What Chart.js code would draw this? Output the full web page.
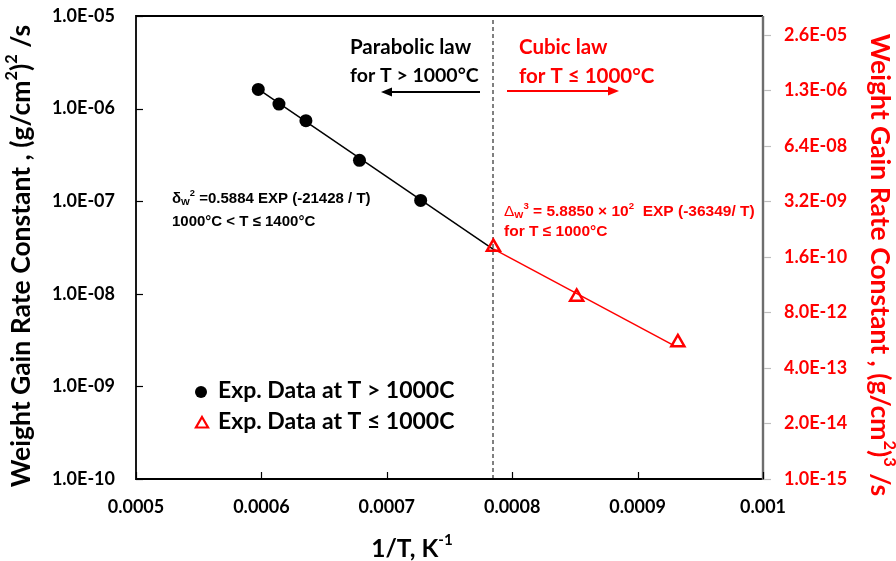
<!DOCTYPE html>
<html><head><meta charset="utf-8">
<script src="https://cdn.jsdelivr.net/npm/chart.js@4/dist/chart.umd.min.js"></script>
<style>html,body{margin:0;padding:0;background:#fff}#wrap{width:896px;height:561px}</style>
</head><body><div id="wrap"><canvas id="c" width="896" height="561"></canvas></div>
<script>
// ---- data ----
const xTicks = [0.0005, 0.0006, 0.0007, 0.0008, 0.0009, 0.001];
const xTickLabels = ['0.0005', '0.0006', '0.0007', '0.0008', '0.0009', '0.001'];
const leftTicks = [1e-10, 1e-9, 1e-8, 1e-7, 1e-6, 1e-5];
const rightTicks = [1e-15, 2e-14, 4e-13, 8e-12, 1.6e-10, 3.2e-9, 6.4e-8, 1.28e-6, 2.56e-5];
const rightMin = 1e-15, rightMax = 7.1e-5;

const parabolicX = [0.0005975, 0.000614, 0.0006355, 0.0006782, 0.000727];
const parabolicY = [1.61e-6, 1.12e-6, 7.4e-7, 2.76e-7, 1.02e-7];
const parabolicFitX = [0.0005975, 0.0007853];
const parabolicFitY = [1.62e-6, 3.0e-8];

const cubicX = [0.000785, 0.0008514, 0.0009321];
const cubicY = [2.73e-10, 1.85e-11, 1.59e-12];
const cubicFitX = [0.0007853, 0.0009295];
const cubicFitY = [2.45e-10, 1.32e-12];

const boundaryX = [0.0007847, 0.0007847];
const boundaryY = [1e-10, 1e-5];

const legendLabels = ['Exp. Data at T > 1000C', 'Exp. Data at T \u2264 1000C'];

// ---- helpers ----
const CAL = "Lato, 'Open Sans', sans-serif";
const ARI = "'Liberation Sans', Arial, sans-serif";
const RED = '#FF0000';
const W = 896, H = 561;
const area = {left: 136, top: 16, right: 763, bottom: 479};
const pts = (xs, ys) => xs.map((x, i) => ({x, y: ys[i]}));
function sci(v) {
  const [m, e] = v.toExponential(1).split('e');
  const n = parseInt(e, 10);
  return m + 'E' + (n < 0 ? '-' : '+') + String(Math.abs(n)).padStart(2, '0');
}
function drawRich(ctx, segs, x, y, o) {
  ctx.save();
  ctx.translate(x, y);
  if (o.rotate) ctx.rotate(o.rotate);
  ctx.fillStyle = o.color; ctx.textBaseline = 'middle'; ctx.textAlign = 'left';
  let total = 0;
  const parts = segs.map(s => {
    const sz = (s.sup || s.sub) ? o.size * 0.62 : o.size;
    const f = `${s.weight || o.weight} ${sz}px ${s.family || o.family}`;
    ctx.font = f;
    const w = ctx.measureText(s.t).width;
    total += w;
    return {s, f, w};
  });
  let cx = o.align === 'center' ? -total / 2 : 0;
  for (const p of parts) {
    ctx.font = p.f;
    const dy = p.s.sup ? -o.size * 0.36 : p.s.sub ? o.size * 0.24 : 0;
    ctx.fillText(p.s.t, cx, dy);
    cx += p.w;
  }
  ctx.restore();
}
function arrow(ctx, x1, y, x2, color) {
  const dir = Math.sign(x2 - x1);
  ctx.save();
  ctx.strokeStyle = color; ctx.fillStyle = color; ctx.lineWidth = 1.8;
  ctx.beginPath(); ctx.moveTo(x1, y); ctx.lineTo(x2 - dir * 8, y); ctx.stroke();
  ctx.beginPath(); ctx.moveTo(x2, y); ctx.lineTo(x2 - dir * 11, y - 4.5); ctx.lineTo(x2 - dir * 11, y + 4.5); ctx.closePath(); ctx.fill();
  ctx.restore();
}
function triangle(ctx, x, y, r, color, lw) {
  ctx.save(); ctx.strokeStyle = color; ctx.lineWidth = lw; ctx.fillStyle = '#fff';
  ctx.beginPath();
  ctx.moveTo(x, y - r);
  ctx.lineTo(x + 0.866 * r, y + 0.5 * r);
  ctx.lineTo(x - 0.866 * r, y + 0.5 * r);
  ctx.closePath(); ctx.fill(); ctx.stroke(); ctx.restore();
}

// pin the plot area to the reference frame
const pinLayout = {
  id: 'pinLayout',
  afterLayout(chart) {
    const ca = chart.chartArea;
    Object.assign(ca, area, {width: area.right - area.left, height: area.bottom - area.top});
    const {x, y, y2} = chart.scales;
    Object.assign(x, {left: area.left, right: area.right, top: area.bottom, bottom: H, width: area.right - area.left, height: H - area.bottom});
    Object.assign(y, {left: 0, right: area.left, top: area.top, bottom: area.bottom, width: area.left, height: area.bottom - area.top});
    Object.assign(y2, {left: area.right, right: W, top: area.top, bottom: area.bottom, width: W - area.right, height: area.bottom - area.top});
    [x, y, y2].forEach(s => { s._labelItems = null; s.configure(); });
  }
};

const deco = {
  id: 'deco',
  beforeDatasetsDraw(chart) {
    const {ctx, chartArea: a, scales} = chart;
    ctx.save();
    ctx.strokeStyle = '#000'; ctx.lineWidth = 1.8;
    ctx.beginPath(); ctx.moveTo(a.right, a.top); ctx.lineTo(a.left, a.top); ctx.lineTo(a.left, a.bottom); ctx.lineTo(a.right, a.bottom); ctx.stroke();
    ctx.strokeStyle = '#6e6e6e'; ctx.lineWidth = 2.4;
    ctx.beginPath(); ctx.moveTo(a.right, a.top); ctx.lineTo(a.right, a.bottom + 1); ctx.stroke();
    ctx.strokeStyle = '#000'; ctx.lineWidth = 1.2;
    leftTicks.forEach(v => { const py = Math.round(scales.y.getPixelForValue(v)) + 0.5; ctx.beginPath(); ctx.moveTo(a.left, py); ctx.lineTo(a.left + 7, py); ctx.stroke(); });
    xTicks.forEach(v => { const px = Math.round(scales.x.getPixelForValue(v)) + 0.5; ctx.beginPath(); ctx.moveTo(px, a.bottom); ctx.lineTo(px, a.bottom - 7); ctx.stroke(); });
    ctx.strokeStyle = '#bdbdbd'; ctx.lineWidth = 1.2;
    rightTicks.forEach(v => { const py = Math.round(scales.y2.getPixelForValue(v)) + 0.5; ctx.beginPath(); ctx.moveTo(a.right + 1, py); ctx.lineTo(a.right + 8, py); ctx.stroke(); });
    ctx.restore();
  },
  afterDraw(chart) {
    const {ctx} = chart;
    drawRich(ctx, [{t: 'Weight Gain Rate Constant , (g/cm'}, {t: '2', sup: true}, {t: ')'}, {t: '2', sup: true}, {t: ' /s'}],
      21, 256, {size: 26.5, family: CAL, weight: 'bold', color: '#000', align: 'center', rotate: -Math.PI / 2});
    drawRich(ctx, [{t: 'Weight Gain Rate Constant , (g/cm'}, {t: '2', sup: true}, {t: ')'}, {t: '3', sup: true}, {t: ' /s'}],
      880, 265, {size: 26.5, family: CAL, weight: 'bold', color: RED, align: 'center', rotate: Math.PI / 2});
    drawRich(ctx, [{t: '1/T, K'}, {t: '-1', sup: true}],
      412, 549, {size: 24.5, family: CAL, weight: 'bold', color: '#000', align: 'center'});
    const o17 = {size: 20.5, family: CAL, weight: 'bold', color: '#000', align: 'left'};
    drawRich(ctx, [{t: 'Parabolic law'}], 350, 47, o17);
    drawRich(ctx, [{t: 'for T > 1000\u00B0C'}], 350, 76, Object.assign({}, o17, {size: 19.5}));
    const r17 = Object.assign({}, o17, {color: RED});
    drawRich(ctx, [{t: 'Cubic law'}], 519, 47, r17);
    drawRich(ctx, [{t: 'for T \u2264 1000\u00B0C'}], 519, 76, r17);
    arrow(ctx, 480, 92, 381, '#000');
    arrow(ctx, 507, 91, 619, RED);
    const e14 = {size: 15, family: ARI, weight: 'bold', color: '#000', align: 'left'};
    drawRich(ctx, [{t: '\u03B4'}, {t: 'W', sub: true}, {t: '2', sup: true}, {t: ' =0.5884 EXP (-21428 / T)'}], 172, 199, e14);
    drawRich(ctx, [{t: '1000\u00B0C < T \u2264 1400\u00B0C'}], 172, 222, e14);
    const r14 = Object.assign({}, e14, {color: RED, size: 15.5});
    drawRich(ctx, [{t: '\u0394', weight: 'normal'}, {t: 'W', sub: true}, {t: '3', sup: true}, {t: ' = 5.8850 \u00D7 10'}, {t: '2', sup: true}, {t: '  EXP (-36349/ T)'}], 504, 212, r14);
    drawRich(ctx, [{t: 'for T \u2264 1000\u00B0C'}], 504, 232, r14);
    ctx.save(); ctx.fillStyle = '#000'; ctx.beginPath(); ctx.arc(201, 392, 6, 0, Math.PI * 2); ctx.fill(); ctx.restore();
    triangle(ctx, 202, 424, 7, RED, 2.2);
    const lg = {size: 23, family: CAL, weight: 'bold', color: '#000', align: 'left'};
    drawRich(ctx, [{t: legendLabels[0]}], 218, 391, lg);
    drawRich(ctx, [{t: legendLabels[1]}], 218, 422, lg);
  }
};

const tickFont = {family: CAL, weight: 'bold', size: 18};
const noPad = s => { s.paddingTop = 0; s.paddingBottom = 0; s.paddingLeft = 0; s.paddingRight = 0; };

new Chart(document.getElementById('c'), {
  type: 'scatter',
  data: {
    datasets: [
      {label: 'Exp. Data at T > 1000C', data: pts(parabolicX, parabolicY), yAxisID: 'y', pointStyle: 'circle', pointRadius: 6.5, pointHoverRadius: 6.5, backgroundColor: '#000', borderColor: '#000', borderWidth: 0, showLine: false, order: 1},
      {label: 'Exp. Data at T \u2264 1000C', data: pts(cubicX, cubicY), yAxisID: 'y2', pointStyle: 'triangle', pointRadius: 7.5, pointHoverRadius: 7.5, backgroundColor: 'rgba(255,255,255,0)', borderColor: RED, borderWidth: 2.5, showLine: false, order: 2},
      {label: 'parabolic fit', data: pts(parabolicFitX, parabolicFitY), yAxisID: 'y', showLine: true, borderColor: '#000', borderWidth: 1.5, pointRadius: 0, pointHoverRadius: 0, order: 3},
      {label: 'cubic fit', data: pts(cubicFitX, cubicFitY), yAxisID: 'y2', showLine: true, borderColor: RED, borderWidth: 1.5, pointRadius: 0, pointHoverRadius: 0, order: 4},
      {label: 'T = 1000 C', data: pts(boundaryX, boundaryY), yAxisID: 'y', showLine: true, borderColor: '#000', borderWidth: 1, borderDash: [4, 3], pointRadius: 0, pointHoverRadius: 0, order: 5}
    ]
  },
  options: {
    responsive: false, animation: false, devicePixelRatio: 1,
    layout: {padding: {top: area.top, left: 0, right: 0, bottom: 0}, autoPadding: false},
    plugins: {legend: {display: false}, tooltip: {enabled: false}},
    events: [],
    scales: {
      x: {
        type: 'linear', min: 0.0005, max: 0.001,
        afterBuildTicks: s => { s.ticks = xTicks.map(v => ({value: v})); },
        ticks: {callback: (v, i) => xTickLabels[i], font: tickFont, color: '#000', padding: 17, maxRotation: 0, autoSkip: false},
        grid: {display: false, drawTicks: false}, border: {display: false},
        afterFit: s => { s.height = H - area.bottom; noPad(s); }
      },
      y: {
        type: 'logarithmic', position: 'left', min: 1e-10, max: 1e-5,
        afterBuildTicks: s => { s.ticks = leftTicks.map(v => ({value: v})); },
        ticks: {callback: v => sci(v), font: tickFont, color: '#000', padding: 21, autoSkip: false},
        grid: {display: false, drawTicks: false}, border: {display: false},
        afterFit: s => { s.width = area.left; noPad(s); }
      },
      y2: {
        type: 'logarithmic', position: 'right', min: rightMin, max: rightMax,
        afterBuildTicks: s => { s.ticks = rightTicks.map(v => ({value: v})); },
        ticks: {callback: v => sci(v), font: tickFont, color: RED, padding: 21, autoSkip: false},
        grid: {display: false, drawTicks: false}, border: {display: false},
        afterFit: s => { s.width = W - area.right; noPad(s); }
      }
    }
  },
  plugins: [pinLayout, deco]
});
</script>
</body></html>
